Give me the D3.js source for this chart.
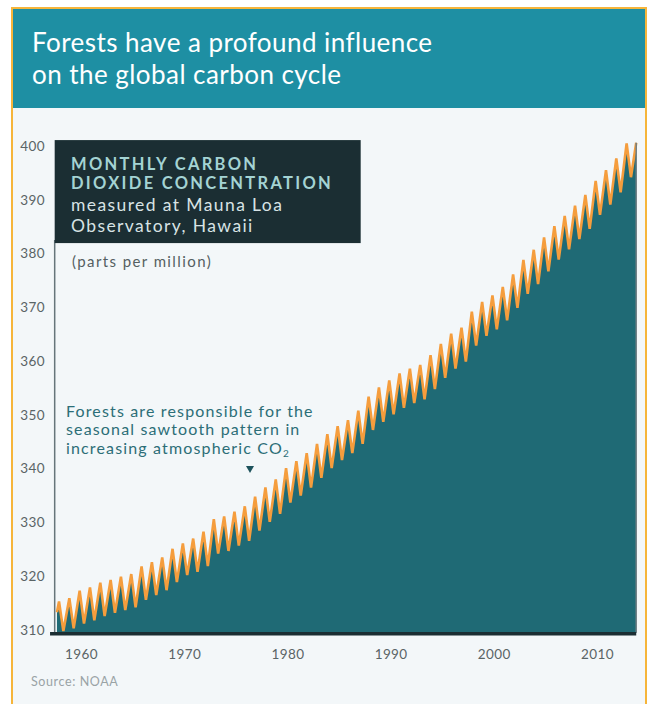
<!DOCTYPE html>
<html>
<head>
<meta charset="utf-8">
<script src="https://cdn.jsdelivr.net/npm/d3@7"></script>
<style>
  body { margin: 0; background: #ffffff; }
  text { font-family: Lato, "Open Sans", sans-serif; }
</style>
</head>
<body>
<div id="svgcontainer"></div>
<script>
// Mauna Loa CO2: one peak (May) and one low (Oct) per year
var years = [1958, 1959, 1960, 1961, 1962, 1963, 1964, 1965, 1966, 1967,
    1968, 1969, 1970, 1971, 1972, 1973, 1974, 1975, 1976, 1977,
    1978, 1979, 1980, 1981, 1982, 1983, 1984, 1985, 1986, 1987,
    1988, 1989, 1990, 1991, 1992, 1993, 1994, 1995, 1996, 1997,
    1998, 1999, 2000, 2001, 2002, 2003, 2004, 2005, 2006, 2007,
    2008, 2009, 2010, 2011, 2012, 2013];
var peakValues = [315.3, 315.9, 317.3, 317.9, 318.8, 319.3, 319.9, 320.4, 321.8, 322.6,
    323.5, 325.1, 326.1, 327.0, 328.3, 330.6, 331.1, 332.0, 333.0, 334.8,
    336.5, 338.0, 340.1, 341.4, 342.9, 344.6, 346.4, 347.9, 349.0, 350.8,
    353.4, 355.1, 356.4, 357.7, 358.6, 359.3, 361.1, 363.2, 365.1, 366.2,
    369.2, 371.0, 372.2, 373.8, 376.1, 378.8, 380.7, 383.0, 385.1, 387.0,
    388.9, 390.9, 393.5, 395.5, 397.7, 400.5];
var lowValues = [309.8, 310.3, 311.2, 311.8, 312.6, 313.2, 313.7, 314.2, 315.6, 316.5,
    317.4, 318.9, 320.2, 320.8, 321.9, 324.2, 324.7, 325.7, 326.6, 328.5,
    330.1, 331.6, 333.7, 335.0, 336.5, 338.3, 340.1, 341.6, 342.9, 344.6,
    347.2, 348.7, 350.1, 351.3, 352.2, 352.9, 354.8, 356.9, 358.6, 359.9,
    362.9, 364.7, 365.9, 367.6, 369.9, 372.5, 374.3, 376.7, 378.9, 380.8,
    382.7, 384.6, 387.2, 389.1, 391.4, 394.2];
var startValue = 313.3;   // March 1958
var endValue = 400.6;     // spring 2014

var yTicks = [310, 320, 330, 340, 350, 360, 370, 380, 390, 400];
var xTicks = [1960, 1970, 1980, 1990, 2000, 2010];

var titleLines = ["Forests have a profound influence", "on the global carbon cycle"];
var boxHead = ["MONTHLY CARBON", "DIOXIDE CONCENTRATION"];
var boxSub = ["measured at Mauna Loa", "Observatory, Hawaii"];
var noteLines = ["Forests are responsible for the", "seasonal sawtooth pattern in", "increasing atmospheric CO"];

function createChart() {
    var width = 649;
    var height = 704;
    var svg = d3.select("#svgcontainer")
        .append("svg")
        .attr("width", width)
        .attr("height", height);

    // panel with orange frame
    svg.append("rect")
        .attr("x", 12).attr("y", 8)
        .attr("width", 634).attr("height", 705)
        .attr("fill", "#f3f7f9")
        .attr("stroke", "#f6b53a")
        .attr("stroke-width", 2);

    // header band
    svg.append("rect")
        .attr("x", 13).attr("y", 9)
        .attr("width", 632).attr("height", 99)
        .attr("fill", "#1e8fa3");
    svg.selectAll(".title")
        .data(titleLines)
        .enter().append("text")
        .attr("class", "title")
        .attr("x", 32)
        .attr("y", function (d, i) { return 52 + i * 32; })
        .attr("fill", "#ffffff")
        .style("font-size", "26px")
        .style("letter-spacing", "0.45px")
        .text(function (d) { return d; });

    var x = d3.scaleLinear().domain([1960.5, 2010.5]).range([81, 597]);
    var y = d3.scaleLinear().domain([310, 400]).range([630, 146]);

    // build the zigzag: start, then May peak and October low of every year
    var points = [{ t: 1958.17, v: startValue }];
    for (var i = 0; i < years.length; i++) {
        points.push({ t: years[i] + 0.37, v: peakValues[i] });
        points.push({ t: years[i] + 0.79, v: lowValues[i] });
    }
    points.push({ t: 2014.3, v: endValue });

    var baseY = y(309.5);
    var area = d3.area()
        .x(function (d) { return x(d.t); })
        .y0(baseY)
        .y1(function (d) { return y(d.v); });
    var line = d3.line()
        .x(function (d) { return x(d.t); })
        .y(function (d) { return y(d.v); });

    svg.append("path")
        .datum(points)
        .attr("d", area)
        .attr("fill", "#1f6a75");
    svg.append("path")
        .datum(points)
        .attr("d", line)
        .attr("fill", "none")
        .attr("stroke", "#f59d3d")
        .attr("stroke-width", 2.6)
        .attr("stroke-linejoin", "miter");

    // right edge of the area
    var last = points[points.length - 1];
    svg.append("line")
        .attr("x1", x(last.t)).attr("x2", x(last.t))
        .attr("y1", y(last.v)).attr("y2", baseY)
        .style("stroke", "#6f7f84")
        .style("stroke-width", 1.5);

    // left axis line, below the dark box
    svg.append("line")
        .attr("x1", x(1957.95)).attr("x2", x(1957.95))
        .attr("y1", y(382.5)).attr("y2", baseY)
        .style("stroke", "#66757a")
        .style("stroke-width", 1.5);

    // dark baseline
    svg.append("line")
        .attr("x1", x(1957.5)).attr("x2", x(2014.3))
        .attr("y1", y(309.5) + 1).attr("y2", y(309.5) + 1)
        .style("stroke", "#1b2e33")
        .style("stroke-width", 3.5);

    // y axis labels
    var yAxis = svg.append("g")
        .attr("transform", "translate(45,0)")
        .call(d3.axisLeft(y).tickValues(yTicks).tickSize(0).tickPadding(0));
    yAxis.select(".domain").remove();
    yAxis.selectAll("text")
        .style("font-family", "Lato, sans-serif")
        .style("font-size", "13.5px")
        .style("letter-spacing", "0.4px")
        .attr("fill", "#5a6466");

    // x axis labels sit in the middle of each year
    var xAxis = svg.append("g")
        .attr("transform", "translate(0," + 649.5 + ")")
        .call(d3.axisBottom(x)
            .tickValues(xTicks.map(function (d) { return d + 0.5; }))
            .tickFormat(function (d) { return Math.floor(d); })
            .tickSize(0).tickPadding(0));
    xAxis.select(".domain").remove();
    xAxis.selectAll("text")
        .style("font-family", "Lato, sans-serif")
        .style("font-size", "13.5px")
        .style("letter-spacing", "0.4px")
        .attr("fill", "#5a6466");

    // dark title box
    svg.append("rect")
        .attr("x", x(1957.95)).attr("y", y(401.1))
        .attr("width", 306).attr("height", 103)
        .attr("fill", "#1b2e33");
    svg.selectAll(".boxhead")
        .data(boxHead)
        .enter().append("text")
        .attr("x", 71)
        .attr("y", function (d, i) { return 170 + i * 19; })
        .attr("fill", "#a4d3d3")
        .style("font-size", "16.5px")
        .style("font-weight", "bold")
        .style("letter-spacing", "2.3px")
        .text(function (d) { return d; });
    svg.selectAll(".boxsub")
        .data(boxSub)
        .enter().append("text")
        .attr("x", 71)
        .attr("y", function (d, i) { return 211 + i * 21; })
        .attr("fill", "#d8e3e5")
        .style("font-size", "17.5px")
        .style("letter-spacing", "1.4px")
        .text(function (d) { return d; });

    svg.append("text")
        .attr("x", 72).attr("y", 267)
        .attr("fill", "#555f62")
        .style("font-size", "15px")
        .style("letter-spacing", "1.4px")
        .text("(parts per million)");

    // annotation
    var note = svg.append("g").attr("fill", "#2c6e77").style("font-size", "16px")
        .style("letter-spacing", "1.15px");
    note.selectAll("text")
        .data(noteLines)
        .enter().append("text")
        .attr("x", 66)
        .attr("y", function (d, i) { return 416.5 + i * 18.5; })
        .text(function (d) { return d; });
    note.select("text:last-child")
        .append("tspan")
        .attr("dy", 3)
        .style("font-size", "10px")
        .text("2");
    svg.append("path")
        .attr("d", "M246,466 L254,466 L250,473 Z")
        .attr("fill", "#1d525c");

    // source
    svg.append("text")
        .attr("x", 31).attr("y", 686)
        .attr("fill", "#9aa3a6")
        .style("font-size", "12.5px")
        .style("letter-spacing", "0.6px")
        .text("Source: NOAA");
}

createChart();
</script>
</body>
</html>
